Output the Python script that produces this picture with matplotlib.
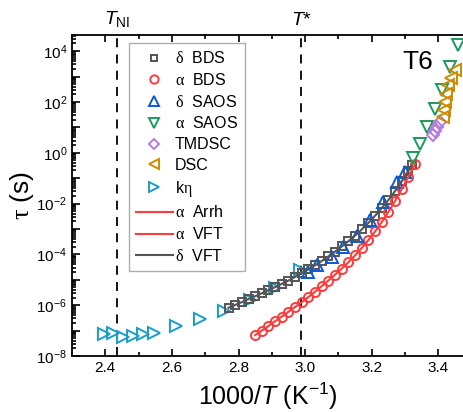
import matplotlib
matplotlib.use("Agg")
import matplotlib.pyplot as plt
import numpy as np
from matplotlib.ticker import LogLocator, FuncFormatter, MultipleLocator, NullFormatter
from matplotlib.lines import Line2D

plt.rcParams['font.family'] = ['Liberation Sans', 'DejaVu Sans']
plt.rcParams['mathtext.fontset'] = 'custom'
plt.rcParams['mathtext.rm'] = 'Liberation Serif'
plt.rcParams['mathtext.it'] = 'Liberation Sans:italic'
plt.rcParams['mathtext.sf'] = 'Liberation Sans'

# ---- data (x = 1000/T, y = log10 tau) ----
dBDS_x = [2.77, 2.79, 2.81, 2.83, 2.85, 2.87, 2.89, 2.91, 2.93, 2.95, 2.97, 2.99,
          3.01, 3.03, 3.05, 3.07, 3.09, 3.11, 3.13, 3.15, 3.17, 3.19, 3.21, 3.23,
          3.25, 3.27, 3.29, 3.31, 3.32]
dBDS_y = [-6.10, -5.99, -5.88, -5.76, -5.65, -5.53, -5.41, -5.29, -5.16, -5.03, -4.89, -4.74,
          -4.59, -4.43, -4.26, -4.08, -3.89, -3.69, -3.48, -3.26, -3.02, -2.76, -2.48, -2.18,
          -1.86, -1.51, -1.13, -0.72, -0.50]

aBDS_x = [2.85, 2.87, 2.89, 2.91, 2.93, 2.95, 2.97, 2.99, 3.01, 3.03, 3.05, 3.07,
          3.09, 3.11, 3.13, 3.15, 3.17, 3.19, 3.21, 3.23, 3.25, 3.27, 3.29, 3.31, 3.33]
aBDS_y = [-7.18, -7.00, -6.82, -6.63, -6.45, -6.26, -6.07, -5.88, -5.68, -5.47, -5.25, -5.03,
          -4.80, -4.56, -4.31, -4.04, -3.75, -3.44, -3.10, -2.73, -2.33, -1.90, -1.43, -0.95, -0.45]

dSAOS_x = [3.01, 3.035, 3.08, 3.115, 3.155, 3.195, 3.235, 3.275, 3.30]
dSAOS_y = [-4.70, -4.42, -4.09, -3.70, -3.28, -2.65, -1.93, -1.14, -0.75]

aSAOS_x = [3.325, 3.345, 3.365, 3.39, 3.41, 3.435, 3.46]
aSAOS_y = [-0.22, 0.33, 1.00, 1.72, 2.46, 3.38, 4.23]

TMDSC_x = [3.383, 3.39, 3.397, 3.405]
TMDSC_y = [0.68, 0.86, 1.03, 1.22]

DSC_x = [3.413, 3.417, 3.42, 3.423, 3.43, 3.437, 3.45]
DSC_y = [1.39, 1.68, 2.00, 2.33, 2.66, 2.93, 3.25]

keta_x = [2.395, 2.423, 2.453, 2.483, 2.513, 2.545, 2.613, 2.685, 2.757, 2.833, 2.91, 2.985]
keta_y = [-7.15, -7.11, -7.25, -7.21, -7.14, -7.08, -6.82, -6.56, -6.23, -5.80, -5.34, -4.62]

T_NI = 2.435
T_star = 2.988

def tau(v):
    return 10.0 ** np.asarray(v)

fig = plt.figure(figsize=(4.63, 4.12), dpi=100)
ax = fig.add_axes([0.1555, 0.136, 1 - 0.1555, 0.779])

c_gray = '#555555'
c_red = '#ff3b3b'
c_blue = '#0a5ad8'
c_green = '#1a9a5c'
c_purple = '#b77be0'
c_orange = '#d08a00'
c_cyan = '#1a9ec8'

mk = dict(linestyle='none', markerfacecolor='none', markeredgewidth=1.4)

ax.axvline(T_NI, color='black', linestyle=(0, (5, 4)), linewidth=1.3, zorder=1)
ax.axvline(T_star, color='black', linestyle=(0, (5, 4)), linewidth=1.3, zorder=1)

ax.plot(keta_x, tau(keta_y), marker='>', color=c_cyan, markersize=8.5, **mk)
ax.plot(dBDS_x, tau(dBDS_y), marker='s', color=c_gray, markersize=5.5, **mk)
ax.plot(aBDS_x, tau(aBDS_y), marker='o', color=c_red, markersize=6.5, **mk)
ax.plot(dSAOS_x, tau(dSAOS_y), marker='^', color=c_blue, markersize=8, **mk)
ax.plot(aSAOS_x, tau(aSAOS_y), marker='v', color=c_green, markersize=8, **mk)
ax.plot(TMDSC_x, tau(TMDSC_y), marker='D', color=c_purple, markersize=6, **mk)
ax.plot(DSC_x, tau(DSC_y), marker='<', color=c_orange, markersize=8, **mk)
ax.plot(aBDS_x, tau(aBDS_y), color=c_red, linewidth=1.5)
ax.plot(dBDS_x, tau(dBDS_y), color=c_gray, linewidth=1.5)

ax.set_yscale('log')
ax.set_xlim(2.3, 3.474)
ax.set_ylim(1e-8, 4.3e4)

ax.xaxis.set_major_locator(MultipleLocator(0.2))
ax.xaxis.set_minor_locator(MultipleLocator(0.1))
ax.xaxis.set_major_formatter(FuncFormatter(lambda v, p: f"{v:.1f}"))
ax.yaxis.set_major_locator(LogLocator(base=10, numticks=30))
ax.yaxis.set_minor_locator(LogLocator(base=10, subs=np.arange(2, 10), numticks=30))
ax.yaxis.set_minor_formatter(NullFormatter())

def yfmt(v, p):
    e = int(round(np.log10(v)))
    if e % 2 == 0:
        return r"$\mathsf{10^{%d}}$" % e
    return ""
ax.yaxis.set_major_formatter(FuncFormatter(yfmt))

ax.tick_params(which='both', direction='in', top=True, right=False, width=1.2, labelsize=11)
ax.tick_params(which='major', length=5)
ax.tick_params(which='minor', length=3)
ax.tick_params(axis='y', which='major', length=6)
ax.spines['right'].set_visible(False)
for s in ['left', 'bottom', 'top']:
    ax.spines[s].set_linewidth(1.3)

ax.set_xlabel(r"1000/$T$ (K$^{\mathsf{-1}}$)", fontsize=18, labelpad=4)
ax.set_ylabel(r"$\mathrm{\tau}$ (s)", fontsize=19, labelpad=0)

ax.text(T_NI, 1.02, r"$T_{\mathsf{NI}}$", transform=ax.get_xaxis_transform(),
        ha='center', va='bottom', fontsize=14)
ax.text(T_star, 1.02, r"$T$*", transform=ax.get_xaxis_transform(),
        ha='center', va='bottom', fontsize=14)
ax.text(0.885, 0.915, "T6", transform=ax.transAxes, ha='center', va='center', fontsize=19)

handles = [
    Line2D([], [], marker='s', color=c_gray, markersize=5, **mk),
    Line2D([], [], marker='o', color=c_red, markersize=6, **mk),
    Line2D([], [], marker='^', color=c_blue, markersize=7, **mk),
    Line2D([], [], marker='v', color=c_green, markersize=7, **mk),
    Line2D([], [], marker='D', color=c_purple, markersize=5.5, **mk),
    Line2D([], [], marker='<', color=c_orange, markersize=7, **mk),
    Line2D([], [], marker='>', color=c_cyan, markersize=7, **mk),
    Line2D([], [], color=c_red, linewidth=1.5),
    Line2D([], [], color=c_red, linewidth=1.5),
    Line2D([], [], color=c_gray, linewidth=1.5),
]
labels = [r"$\mathrm{\delta}$  BDS", r"$\mathrm{\alpha}$  BDS", r"$\mathrm{\delta}$  SAOS",
          r"$\mathrm{\alpha}$  SAOS", "TMDSC", "DSC", r"k$\mathrm{\eta}$",
          r"$\mathrm{\alpha}$  Arrh", r"$\mathrm{\alpha}$  VFT", r"$\mathrm{\delta}$  VFT"]
leg = ax.legend(handles, labels, loc='upper left', bbox_to_anchor=(0.145, 0.975),
                fontsize=11.5, frameon=True, fancybox=False, edgecolor='#999999',
                handlelength=2.3, handletextpad=0.15, labelspacing=0.36,
                borderpad=0.45, borderaxespad=0, markerscale=1.0)
leg.get_frame().set_linewidth(1.0)

fig.savefig("out.png", dpi=100)
